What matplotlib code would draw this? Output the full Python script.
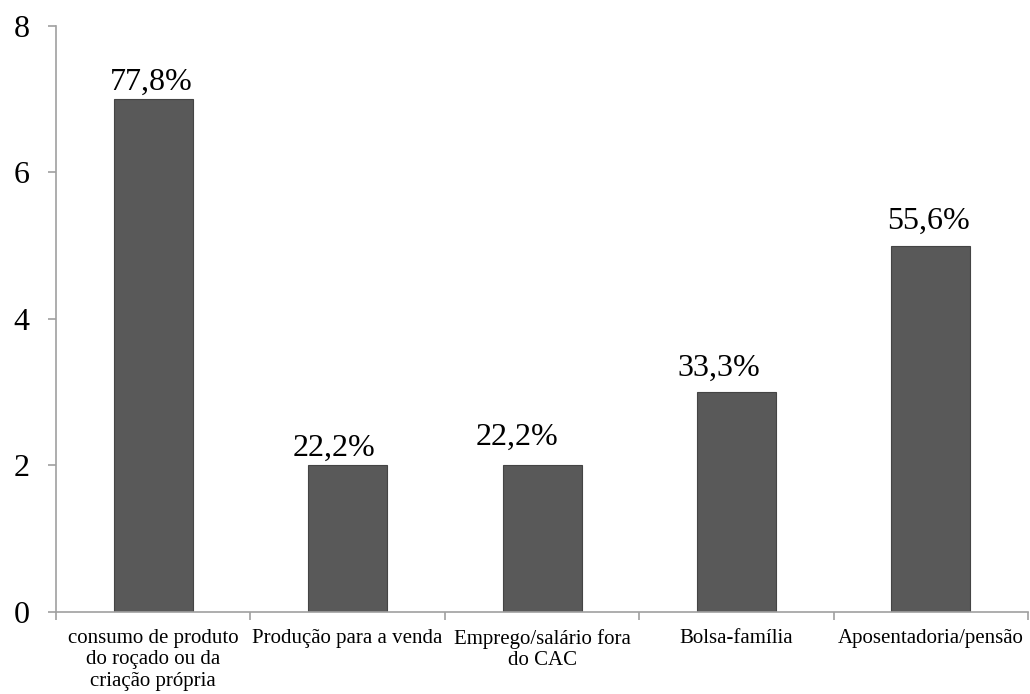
import matplotlib
matplotlib.use("Agg")
import matplotlib.pyplot as plt
import numpy as np

categories = [
    "consumo de produto\ndo roçado ou da\ncriação própria",
    "Produção para a venda",
    "Emprego/salário fora\ndo CAC",
    "Bolsa-família",
    "Aposentadoria/pensão",
]
counts = [7, 2, 2, 3, 5]
percent_labels = ["77,8%", "22,2%", "22,2%", "33,3%", "55,6%"]
y_ticks = [0, 2, 4, 6, 8]

# hand-placed label nudges (points): horizontal shift, gap above bar
label_dx = [-1.5, -10, -18, -13, -1.5]
label_gap = [7, 7, 15, 12, 12]

plt.rcParams["font.family"] = ["Liberation Serif", "DejaVu Serif"]

fig = plt.figure(figsize=(10.30, 6.94), dpi=100)
ax = fig.add_axes([0.0544, 0.1182, 0.9437, 0.8444])

x = np.arange(len(categories))
ax.bar(x, counts, width=0.406, color="#595959", edgecolor="#444444", linewidth=0.8)

for xi, val, lab, dx, dy in zip(x, counts, percent_labels, label_dx, label_gap):
    ax.annotate(lab, (xi, val), xytext=(dx, dy), textcoords="offset points",
                ha="center", va="baseline", fontsize=23)

ax.set_xlim(-0.5, len(categories) - 0.5)
ax.set_ylim(0, 8)
ax.set_yticks(y_ticks)
ax.tick_params(axis="y", labelsize=23, length=6, width=1.2, color="#a0a0a0", pad=13)

ax.set_xticks(x)
ax.set_xticklabels(categories, fontsize=15, linespacing=1.2)
ax.tick_params(axis="x", which="major", length=0, pad=12)
ax.set_xticks(np.arange(-0.5, len(categories), 1.0), minor=True)
ax.tick_params(axis="x", which="minor", length=6, width=1.2, color="#a0a0a0")

for side in ["top", "right"]:
    ax.spines[side].set_visible(False)
for side in ["left", "bottom"]:
    ax.spines[side].set_color("#a0a0a0")
    ax.spines[side].set_linewidth(1.2)

fig.savefig("out.png", dpi=100)
